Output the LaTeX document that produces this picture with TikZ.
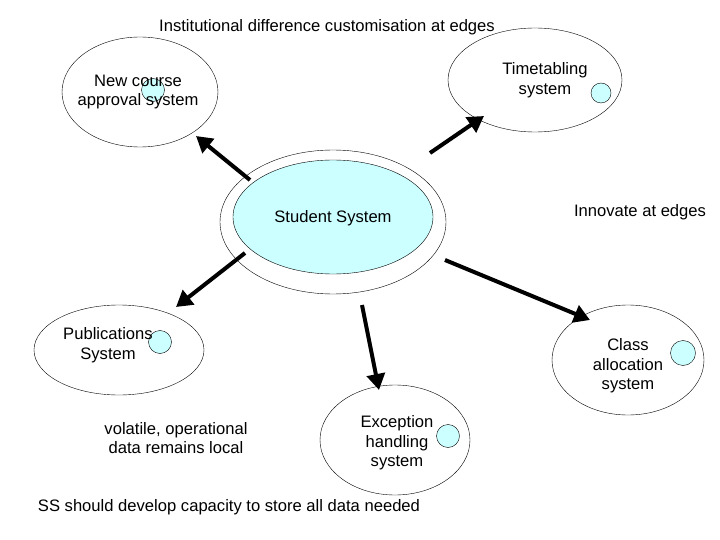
\documentclass[tikz,border=0pt]{standalone}
\usepackage{fontspec}
\setmainfont{Liberation Sans}
\usetikzlibrary{arrows.meta}
\definecolor{lb}{RGB}{204,255,255}
\begin{document}
\begin{tikzpicture}[x=1pt,y=-1pt,
  every node/.style={font=\fontsize{16.6}{19.5}\selectfont, align=center, inner sep=0},
  dot/.style={draw, fill=lb, circle, minimum size=23},
  arr/.style={line width=4pt, -{Triangle[length=16pt,width=18pt]}}]
\useasboundingbox (0,0) rectangle (720,540);
\draw (140,92) ellipse [x radius=78, y radius=55];
\draw (535,80) ellipse [x radius=87, y radius=52];
\draw (333,222) ellipse [x radius=113, y radius=72];
\draw[fill=lb] (333,217) ellipse [x radius=100, y radius=57];
\draw (119,350) ellipse [x radius=85, y radius=45];
\draw (628,360) ellipse [x radius=76, y radius=55];
\draw (395,440) ellipse [x radius=75, y radius=55];
\node[dot] (d1) at (153,90) {};
\node[dot, minimum size=20] (d2) at (601,93) {};
\node[dot] (d3) at (160,342) {};
\node[dot, minimum size=25] (d4) at (683,353) {};
\node[dot] (d5) at (448,436) {};
\node (t) at (327,27) {Institutional difference customisation at edges};
\node (nc) at (138,92) {New course\\approval system};
\node (tt) at (545,80) {Timetabling\\system};
\node (ss) at (333,218) {Student System};
\node (ie) at (640,212) {Innovate at edges};
\node (ps) at (108,345) {Publications\\System};
\node (ca) at (628,366) {Class\\allocation\\system};
\node (eh) at (397,443) {Exception\\handling\\system};
\node (vo) at (176,438) {volatile, operational\\data remains local};
\node (sd) at (229,507) {SS should develop capacity to store all data needed};
\coordinate (a1s) at (250,180); \coordinate (a1e) at (196,136);
\coordinate (a2s) at (430,153); \coordinate (a2e) at (484,116);
\coordinate (a3s) at (245,253); \coordinate (a3e) at (176,307);
\coordinate (a4s) at (445,260); \coordinate (a4e) at (590,320);
\coordinate (a5s) at (362,305); \coordinate (a5e) at (379,390);
\draw[arr] (a1s) -- (a1e);
\draw[arr] (a2s) -- (a2e);
\draw[arr] (a3s) -- (a3e);
\draw[arr] (a4s) -- (a4e);
\draw[arr] (a5s) -- (a5e);
\end{tikzpicture}
\end{document}
